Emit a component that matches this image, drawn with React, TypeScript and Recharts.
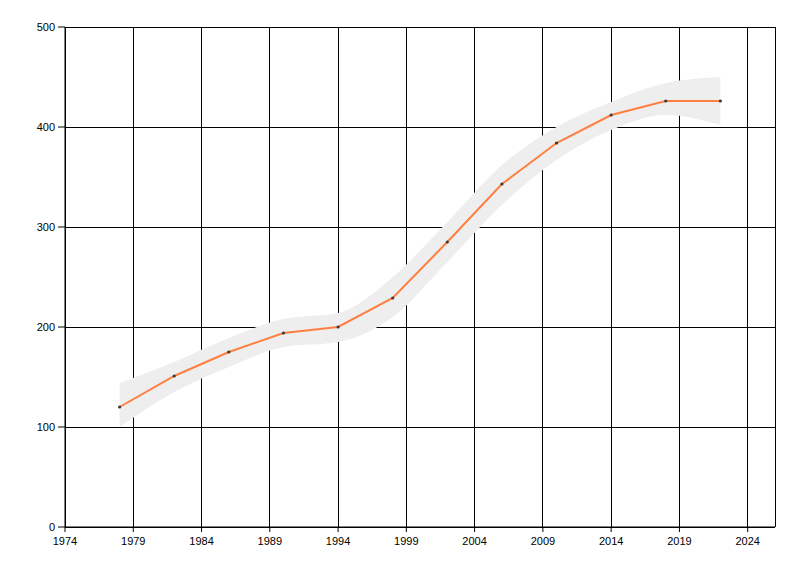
import { ComposedChart, Line, Area, XAxis, YAxis, CartesianGrid } from 'recharts';

const years = [1978, 1982, 1986, 1990, 1994, 1998, 2002, 2006, 2010, 2014, 2018, 2022];
const values = [120, 151, 175, 194, 200, 229, 285, 343, 384, 412, 426, 426];
const lower = [100, 135, 160, 180, 185, 210, 265, 322, 367, 397, 412, 402];
const upper = [144, 165, 189, 208, 214, 250, 305, 362, 400, 425, 444, 450];

const xTicks = [1974, 1979, 1984, 1989, 1994, 1999, 2004, 2009, 2014, 2019, 2024];
const yTicks = [0, 100, 200, 300, 400, 500];

const data = years.map((year, i) => ({
  year,
  value: values[i],
  band: [lower[i], upper[i]],
}));

const tickStyle = { fontFamily: 'Liberation Sans, Arial, sans-serif', fontSize: 11, fill: '#000' };

const Dot = (props: any) => {
  const { cx, cy } = props;
  if (cx == null || cy == null) return null;
  return <circle cx={cx} cy={cy} r={1.6} fill="#3a3a3a" />;
};

export default function App() {
  return (
    <ComposedChart
      width={792}
      height={568}
      data={data}
      margin={{ top: 19, right: 25, bottom: 0, left: 0 }}
    >
      <CartesianGrid stroke="#000" strokeWidth={1} shapeRendering="crispEdges" />
      <XAxis
        dataKey="year"
        type="number"
        domain={[1974, 2026]}
        ticks={xTicks}
        height={49}
        tick={tickStyle}
        tickSize={5}
        tickMargin={5}
        stroke="#000"
        tickLine={{ stroke: '#000' }}
        axisLine={{ stroke: '#000' }}
        interval={0}
      />
      <YAxis
        type="number"
        domain={[0, 500]}
        ticks={yTicks}
        width={57}
        tick={tickStyle}
        tickSize={7}
        tickMargin={3}
        stroke="#000"
        tickLine={{ stroke: '#000' }}
        axisLine={{ stroke: '#000' }}
        interval={0}
      />
      <Area
        dataKey="band"
        type="monotone"
        fill="#eeeeee"
        fillOpacity={1}
        stroke="none"
        isAnimationActive={false}
        activeDot={false}
      />
      <Line
        dataKey="value"
        type="linear"
        stroke="#ff7f40"
        strokeWidth={2}
        dot={<Dot />}
        activeDot={false}
        isAnimationActive={false}
      />
    </ComposedChart>
  );
}
